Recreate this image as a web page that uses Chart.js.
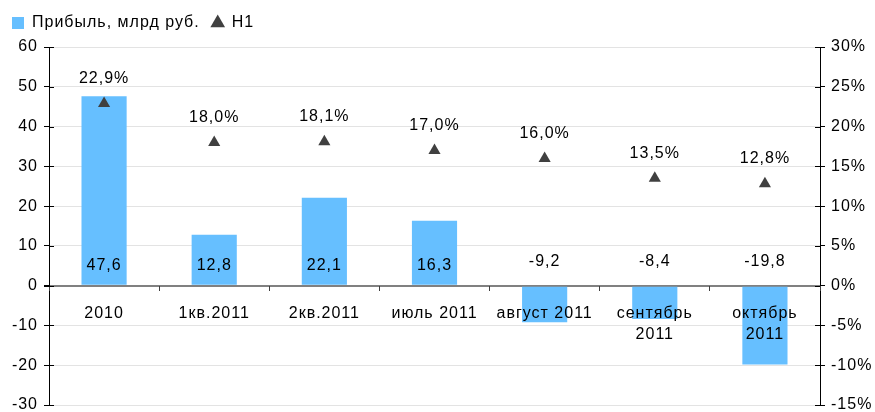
<!DOCTYPE html>
<html>
<head>
<meta charset="utf-8">
<script src="https://cdn.jsdelivr.net/npm/chart.js@4"></script>
<style>
  html, body { margin: 0; padding: 0; background: #fff; }
  #wrap { width: 875px; height: 412px; }
</style>
</head>
<body>
<div id="wrap"><canvas id="chart"></canvas></div>
<script>
const categories = ['2010', '1кв.2011', '2кв.2011', 'июль 2011', 'август 2011', ['сентябрь', '2011'], ['октябрь', '2011']];
const profit = [47.6, 12.8, 22.1, 16.3, -9.2, -8.4, -19.8];
const h1 = [22.9, 18.0, 18.1, 17.0, 16.0, 13.5, 12.8];
const leftTicks = [-30, 60, 10];
const rightTicks = [-15, 30, 5];

const FONT = '"Liberation Sans", Arial, sans-serif';
Chart.defaults.font.family = FONT;
Chart.defaults.font.size = 16;
Chart.defaults.color = '#000';

function fmt(v) {
  return v.toFixed(1).replace('.', ',');
}

// legend spacing and slightly wider text, like the reference
const spacingPlugin = {
  id: 'spacing',
  beforeInit(chart) {
    const legend = chart.legend;
    const fit = legend.fit;
    legend.fit = function () {
      fit.call(this);
      this.height += 9;
    };
    const draw = legend.draw;
    legend.draw = function () {
      chart.ctx.save();
      chart.ctx.translate(0, 3);
      draw.call(this);
      chart.ctx.restore();
    };
  },
  beforeUpdate(chart) { chart.ctx.letterSpacing = '1px'; },
  beforeDraw(chart) { chart.ctx.letterSpacing = '1px'; }
};

// value labels for bars and triangles
const labelsPlugin = {
  id: 'labels',
  afterDatasetsDraw(chart) {
    const ctx = chart.ctx;
    const y = chart.scales.y;
    ctx.save();
    ctx.font = '16px ' + FONT;
    ctx.fillStyle = '#000';
    ctx.textAlign = 'center';
    ctx.textBaseline = 'middle';
    chart.getDatasetMeta(0).data.forEach((bar, i) => {
      const v = profit[i];
      ctx.fillText(fmt(v), bar.x, y.getPixelForValue(v >= 0 ? 5 : 6));
    });
    chart.getDatasetMeta(1).data.forEach((pt, i) => {
      ctx.fillText(fmt(h1[i]) + '%', pt.x, pt.y - 25);
    });
    ctx.restore();
  },
  afterDraw(chart) {
    // short tick stubs inside the plot on both value axes
    const ctx = chart.ctx;
    ctx.save();
    ctx.strokeStyle = '#000';
    ctx.lineWidth = 1;
    ['y', 'y1'].forEach(id => {
      const s = chart.scales[id];
      const x = id === 'y' ? s.right : s.left;
      const dir = id === 'y' ? 1 : -1;
      s.ticks.forEach(t => {
        const py = Math.round(s.getPixelForValue(t.value)) + 0.5;
        ctx.beginPath();
        ctx.moveTo(x, py);
        ctx.lineTo(x + dir * 5, py);
        ctx.stroke();
      });
    });
    ctx.restore();
  }
};

function fitAxis(width) {
  return s => {
    s.width = width;
    s.paddingBottom = 0;
  };
}

new Chart(document.getElementById('chart'), {
  data: {
    labels: categories,
    datasets: [
      {
        type: 'bar',
        label: 'Прибыль, млрд руб.',
        data: profit,
        backgroundColor: '#66BFFF',
        borderWidth: 0,
        barPercentage: 0.41,
        categoryPercentage: 1,
        pointStyle: 'rect',
        yAxisID: 'y',
        order: 2
      },
      {
        type: 'line',
        label: 'Н1',
        data: h1,
        showLine: false,
        pointStyle: 'triangle',
        pointRadius: 7,
        pointHoverRadius: 7,
        backgroundColor: '#404040',
        borderColor: '#404040',
        borderWidth: 0,
        yAxisID: 'y1',
        order: 1
      }
    ]
  },
  options: {
    responsive: true,
    maintainAspectRatio: false,
    animation: false,
    layout: { padding: { left: 0, right: 0, top: 0, bottom: 7 } },
    plugins: {
      tooltip: { enabled: false },
      legend: {
        position: 'top',
        align: 'start',
        labels: {
          usePointStyle: true,
          boxWidth: 12,
          boxHeight: 12,
          padding: 12,
          font: { size: 16 },
          color: '#000',
          sort: (a, b) => a.datasetIndex - b.datasetIndex
        }
      }
    },
    scales: {
      x: {
        position: { y: 0 },
        offset: true,
        grid: {
          offset: true,
          drawOnChartArea: false,
          tickLength: 5,
          tickColor: '#404040',
          z: 1
        },
        border: { display: false },
        ticks: {
          z: 1,
          padding: 13,
          maxRotation: 0,
          autoSkip: false,
          font: { size: 16, lineHeight: 1.3 },
          color: '#000'
        }
      },
      y: {
        position: 'left',
        min: leftTicks[0],
        max: leftTicks[1],
        ticks: { stepSize: leftTicks[2], padding: 6, font: { size: 16 }, color: '#000' },
        grid: {
          color: ctx => ctx.tick && ctx.tick.value === 0 ? '#808080' : '#E3E3E3',
          lineWidth: ctx => ctx.tick && ctx.tick.value === 0 ? 2 : 1,
          tickLength: 5,
          tickColor: '#000'
        },
        border: { color: '#000', width: 1 },
        afterFit: fitAxis(49)
      },
      y1: {
        position: 'right',
        min: rightTicks[0],
        max: rightTicks[1],
        ticks: { stepSize: rightTicks[2], padding: 6, font: { size: 16 }, color: '#000', callback: v => v + '%' },
        grid: { drawOnChartArea: false, tickLength: 5, tickColor: '#000' },
        border: { color: '#000', width: 1 },
        afterFit: fitAxis(55)
      }
    }
  },
  plugins: [spacingPlugin, labelsPlugin]
});
</script>
</body>
</html>
